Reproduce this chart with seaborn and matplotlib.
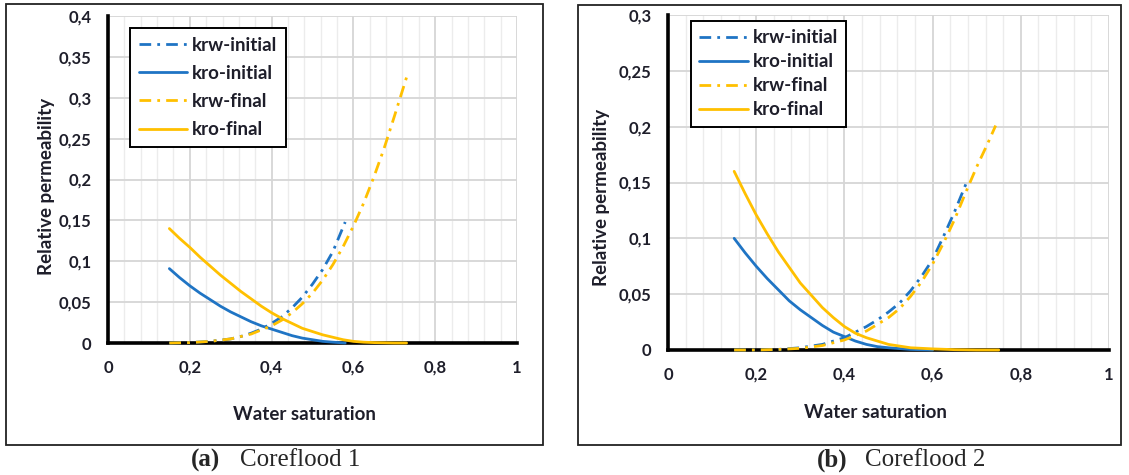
import matplotlib
matplotlib.use("Agg")
import matplotlib.pyplot as plt
import matplotlib.ticker as mticker
from matplotlib.patches import Rectangle
import seaborn as sns
import pandas as pd

# ---------------- data ----------------
# Coreflood 1
sw_kro_init_1 = [0.15, 0.175, 0.20, 0.225, 0.25, 0.275, 0.30, 0.325, 0.35, 0.375,
                 0.40, 0.425, 0.45, 0.475, 0.50, 0.525, 0.55, 0.58]
kro_init_1 = [0.091, 0.080, 0.070, 0.061, 0.053, 0.045, 0.038, 0.032, 0.026, 0.021,
              0.017, 0.013, 0.009, 0.006, 0.004, 0.002, 0.001, 0.0]
sw_kro_final_1 = [0.15, 0.175, 0.20, 0.225, 0.25, 0.275, 0.30, 0.325, 0.35, 0.375,
                  0.40, 0.425, 0.45, 0.475, 0.50, 0.525, 0.55, 0.575, 0.60, 0.625,
                  0.65, 0.70, 0.73]
kro_final_1 = [0.140, 0.128, 0.117, 0.105, 0.094, 0.083, 0.073, 0.063, 0.054, 0.045,
               0.037, 0.030, 0.024, 0.018, 0.014, 0.010, 0.007, 0.004, 0.002, 0.001,
               0.0005, 0.0, 0.0]
sw_krw_init_1 = [0.15, 0.20, 0.25, 0.30, 0.325, 0.35, 0.375, 0.40, 0.425, 0.45,
                 0.475, 0.50, 0.525, 0.55, 0.58]
krw_init_1 = [0.0, 0.0005, 0.002, 0.005, 0.008, 0.012, 0.017, 0.024, 0.032, 0.043,
              0.056, 0.072, 0.090, 0.112, 0.148]
sw_krw_final_1 = [0.15, 0.20, 0.25, 0.30, 0.35, 0.40, 0.425, 0.45, 0.475, 0.50,
                  0.525, 0.55, 0.575, 0.60, 0.625, 0.65, 0.675, 0.70, 0.73]
krw_final_1 = [0.0, 0.0005, 0.002, 0.005, 0.011, 0.021, 0.028, 0.037, 0.048, 0.061,
               0.077, 0.096, 0.118, 0.143, 0.171, 0.203, 0.238, 0.277, 0.325]

# Coreflood 2
sw_kro_init_2 = [0.15, 0.175, 0.20, 0.225, 0.25, 0.275, 0.30, 0.325, 0.35, 0.375,
                 0.40, 0.425, 0.45, 0.475, 0.50, 0.55, 0.60]
kro_init_2 = [0.100, 0.087, 0.075, 0.064, 0.054, 0.044, 0.036, 0.029, 0.022, 0.016,
              0.012, 0.008, 0.005, 0.003, 0.002, 0.0005, 0.0]
sw_kro_final_2 = [0.15, 0.175, 0.20, 0.225, 0.25, 0.275, 0.30, 0.325, 0.35, 0.375,
                  0.40, 0.425, 0.45, 0.475, 0.50, 0.55, 0.60, 0.65, 0.70, 0.75]
kro_final_2 = [0.160, 0.140, 0.121, 0.104, 0.088, 0.074, 0.060, 0.049, 0.038, 0.029,
               0.021, 0.015, 0.011, 0.008, 0.005, 0.002, 0.001, 0.0003, 0.0, 0.0]
sw_krw_init_2 = [0.15, 0.20, 0.25, 0.30, 0.35, 0.375, 0.40, 0.425, 0.45, 0.475,
                 0.50, 0.525, 0.55, 0.575, 0.60, 0.625, 0.65, 0.678]
krw_init_2 = [0.0, 0.0, 0.0005, 0.002, 0.005, 0.008, 0.011, 0.016, 0.021, 0.027,
              0.034, 0.042, 0.053, 0.066, 0.081, 0.102, 0.124, 0.151]
sw_krw_final_2 = [0.15, 0.20, 0.25, 0.30, 0.35, 0.40, 0.425, 0.45, 0.475, 0.50,
                  0.525, 0.55, 0.575, 0.60, 0.625, 0.65, 0.675, 0.70, 0.725, 0.743]
krw_final_2 = [0.0, 0.0, 0.0005, 0.0015, 0.004, 0.009, 0.013, 0.017, 0.023, 0.029,
               0.037, 0.048, 0.061, 0.077, 0.096, 0.117, 0.141, 0.164, 0.185, 0.201]

x_ticks = [0, 0.2, 0.4, 0.6, 0.8, 1.0]
x_tick_labels = ["0", "0,2", "0,4", "0,6", "0,8", "1"]
y_ticks_1 = [0, 0.05, 0.10, 0.15, 0.20, 0.25, 0.30, 0.35, 0.40]
y_tick_labels_1 = ["0", "0,05", "0,1", "0,15", "0,2", "0,25", "0,3", "0,35", "0,4"]
y_ticks_2 = [0, 0.05, 0.10, 0.15, 0.20, 0.25, 0.30]
y_tick_labels_2 = ["0", "0,05", "0,1", "0,15", "0,2", "0,25", "0,3"]

series_names = ["krw-initial", "kro-initial", "krw-final", "kro-final"]
captions = [("(a)", "Coreflood 1"), ("(b)", "Coreflood 2")]

# ---------------- style ----------------
sns.set_theme(style="white")
plt.rcParams["font.family"] = ["Lato", "DejaVu Sans"]

BLUE = "#1f74c4"
GOLD = "#ffc000"
DASHDOT = (0, (4.2, 2.2, 1.0, 2.2))
TXT = "#1e1e2a"

fig = plt.figure(figsize=(11.29, 4.75), dpi=100)

W, H = 1129, 475
def fbox(x0, y0, x1, y1):
    return Rectangle((x0 / W, 1 - y1 / H), (x1 - x0) / W, (y1 - y0) / H,
                     transform=fig.transFigure, fill=False, edgecolor="#222222",
                     linewidth=1.3, zorder=0)
fig.patches.append(fbox(6, 4, 543, 445))
fig.patches.append(fbox(578, 5, 1121, 445))

ax1 = fig.add_axes([108 / W, 1 - 343 / H, 409 / W, 327 / H])
ax2 = fig.add_axes([668 / W, 1 - 350 / H, 441 / W, 335 / H])

panels = [
    (ax1, [(sw_krw_init_1, krw_init_1), (sw_kro_init_1, kro_init_1),
           (sw_krw_final_1, krw_final_1), (sw_kro_final_1, kro_final_1)],
     0.4, y_ticks_1, y_tick_labels_1, dict(anchor=(0.054, 0.963), spacing=0.6),
     (-0.13, 0.48), (0.48, -0.193)),
    (ax2, [(sw_krw_init_2, krw_init_2), (sw_kro_init_2, kro_init_2),
           (sw_krw_final_2, krw_final_2), (sw_kro_final_2, kro_final_2)],
     0.3, y_ticks_2, y_tick_labels_2, dict(anchor=(0.052, 0.982), spacing=0.37),
     (-0.132, 0.455), (0.47, -0.161)),
]

colors = [BLUE, BLUE, GOLD, GOLD]
styles = [DASHDOT, "-", DASHDOT, "-"]

for ax, series, ymax, yt, ytl, leg, ylab_pos, xlab_pos in panels:
    for (sw, kr), name, c, ls in zip(series, series_names, colors, styles):
        df = pd.DataFrame({"Sw": sw, "kr": kr})
        sns.lineplot(data=df, x="Sw", y="kr", ax=ax, color=c, linestyle=ls,
                     linewidth=2.0, label=name, clip_on=False, zorder=4)
    ax.set_xlim(0, 1)
    ax.set_ylim(0, ymax)
    ax.set_xticks(x_ticks)
    ax.set_xticklabels(x_tick_labels)
    ax.set_yticks(yt)
    ax.set_yticklabels(ytl)
    ax.xaxis.set_minor_locator(mticker.MultipleLocator(0.04))
    ax.grid(which="major", color="#d6d6d6", linewidth=1.3, zorder=0)
    ax.grid(which="minor", axis="x", color="#ececec", linewidth=1.0, zorder=0)
    ax.set_axisbelow(True)
    for s in ["top", "right"]:
        ax.spines[s].set_visible(False)
    for s in ["left", "bottom"]:
        ax.spines[s].set_color("black")
        ax.spines[s].set_linewidth(2.6)
        ax.spines[s].set_zorder(3)
    ax.tick_params(which="major", direction="out", length=5, width=2.2,
                   color="black", labelsize=12, labelcolor=TXT, pad=7)
    ax.tick_params(which="minor", length=0)
    for lab in ax.get_xticklabels() + ax.get_yticklabels():
        lab.set_fontweight("bold")
    ax.set_xlabel("Water saturation", fontsize=13.5, fontweight="bold", color=TXT)
    ax.set_ylabel("Relative permeability", fontsize=13.5, fontweight="bold", color=TXT)
    ax.yaxis.set_label_coords(*ylab_pos)
    ax.xaxis.set_label_coords(*xlab_pos)
    lg = ax.legend(loc="upper left", bbox_to_anchor=leg["anchor"], borderaxespad=0,
                   frameon=True, fancybox=False, edgecolor="black",
                   prop={"weight": "bold", "size": 13.5},
                   labelspacing=leg["spacing"], handlelength=2.6, handletextpad=0.25,
                   borderpad=0.45)
    lg.get_frame().set_linewidth(1.4)
    lg.get_frame().set_alpha(1)
    for t in lg.get_texts():
        t.set_color(TXT)

# captions
serif = ["Liberation Serif", "DejaVu Serif"]
fig.text(220 / W, 1 - 460 / H, captions[0][0], ha="right", va="center",
         fontsize=18, fontweight="bold", family=serif)
fig.text(240 / W, 1 - 460 / H, captions[0][1], ha="left", va="center",
         fontsize=18, family=serif)
fig.text(848 / W, 1 - 460 / H, captions[1][0], ha="right", va="center",
         fontsize=18, fontweight="bold", family=serif)
fig.text(865 / W, 1 - 460 / H, captions[1][1], ha="left", va="center",
         fontsize=18, family=serif)

fig.savefig("out.png", dpi=100)
